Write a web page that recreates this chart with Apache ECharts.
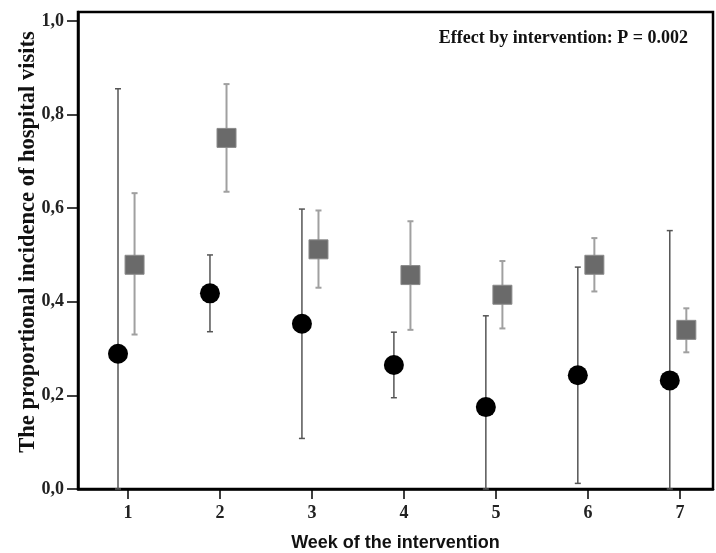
<!DOCTYPE html>
<html><head><meta charset="utf-8">
<script src="https://cdn.jsdelivr.net/npm/echarts@6/dist/echarts.min.js"></script>
<style>html,body{margin:0;padding:0;background:#fff}#c{width:716px;height:553px}</style>
</head><body><div id="c"></div>
<script>
const weeks = [1, 2, 3, 4, 5, 6, 7];
const yTicks = [0, 0.2, 0.4, 0.6, 0.8, 1.0];
// control group (black circles)
const circleMean = [0.289, 0.418, 0.353, 0.265, 0.175, 0.243, 0.232];
const circleLow  = [0.000, 0.336, 0.108, 0.195, 0.000, 0.012, 0.000];
const circleHigh = [0.855, 0.500, 0.598, 0.335, 0.370, 0.474, 0.552];
// intervention group (grey squares)
const squareMean = [0.479, 0.750, 0.512, 0.457, 0.415, 0.479, 0.340];
const squareLow  = [0.330, 0.635, 0.430, 0.340, 0.343, 0.422, 0.292];
const squareHigh = [0.632, 0.865, 0.595, 0.572, 0.487, 0.536, 0.386];
const annotation = 'Effect by intervention: P = 0.002';
const yTitle = 'The proportional incidence of hospital visits';
const xTitle = 'Week of the intervention';

const offC = -0.11, offS = 0.07;
const chart = echarts.init(document.getElementById('c'), null, {renderer: 'canvas'});

function errSeries(x, lo, hi, color, width) {
  const data = weeks.map((w, i) => [w + x, lo[i], hi[i]]);
  return {
    type: 'custom', z: 1,
    data: data,
    encode: {x: 0, y: [1, 2]},
    renderItem: function (params, api) {
      const xv = api.value(0);
      const a = api.coord([xv, api.value(1)]);
      const b = api.coord([xv, api.value(2)]);
      const cap = 3;
      const st = {stroke: color, lineWidth: width};
      return {type: 'group', children: [
        {type: 'line', shape: {x1: a[0], y1: a[1], x2: b[0], y2: b[1]}, style: st},
        {type: 'line', shape: {x1: a[0]-cap, y1: a[1], x2: a[0]+cap, y2: a[1]}, style: st},
        {type: 'line', shape: {x1: b[0]-cap, y1: b[1], x2: b[0]+cap, y2: b[1]}, style: st}
      ]};
    }
  };
}

chart.setOption({
  animation: false,
  backgroundColor: '#fff',
  grid: {left: 78, right: 3, top: 12, bottom: 64, outerBoundsMode: 'none', containLabel: false,
         show: true, borderColor: '#000', borderWidth: 2.5, backgroundColor: '#fff'},
  xAxis: {
    type: 'value', min: 0.455, max: 7.36,
    name: xTitle, nameLocation: 'middle', nameGap: 45,
    nameTextStyle: {fontFamily: 'Liberation Sans', fontWeight: 'bold', fontSize: 18, color: '#111'},
    axisLine: {show: true, lineStyle: {color: '#000', width: 2.5}},
    axisTick: {show: true, customValues: weeks, length: 10, lineStyle: {color: '#000', width: 1.5}},
    axisLabel: {customValues: weeks, fontFamily: 'Liberation Serif', fontWeight: 'bold', fontSize: 18, color: '#222', margin: 15},
    splitLine: {show: false}
  },
  yAxis: {
    type: 'value', min: 0, max: 1.019,
    axisLine: {show: true, lineStyle: {color: '#000', width: 2.5}},
    axisTick: {show: true, customValues: yTicks, length: 11, lineStyle: {color: '#000', width: 1.5}},
    axisLabel: {customValues: yTicks, formatter: v => v.toFixed(1).replace('.', ','), fontFamily: 'Liberation Serif', fontWeight: 'bold', fontSize: 18, color: '#222', margin: 14},
    splitLine: {show: false}
  },
  graphic: [
    {type: 'text', right: 28, top: 29, style: {text: annotation, font: 'bold 18px "Liberation Serif"', fill: '#111'}},
    {type: 'text', x: 28, y: 242, rotation: Math.PI / 2,
     style: {text: yTitle, font: 'bold 22.5px "Liberation Serif"', fill: '#111', align: 'center', verticalAlign: 'middle'}}
  ],
  series: [
    errSeries(offC, circleLow, circleHigh, '#555', 1.5),
    errSeries(offS, squareLow, squareHigh, '#a0a0a0', 2),
    {type: 'scatter', z: 3, symbol: 'circle', symbolSize: 20, itemStyle: {color: '#000', opacity: 1},
     data: weeks.map((w, i) => [w + offC, circleMean[i]])},
    {type: 'scatter', z: 3, symbol: 'rect', symbolSize: 19, itemStyle: {color: '#6a6a6a', opacity: 1, borderColor: '#8a8a8a', borderWidth: 1},
     data: weeks.map((w, i) => [w + offS, squareMean[i]])}
  ]
});
</script></body></html>
